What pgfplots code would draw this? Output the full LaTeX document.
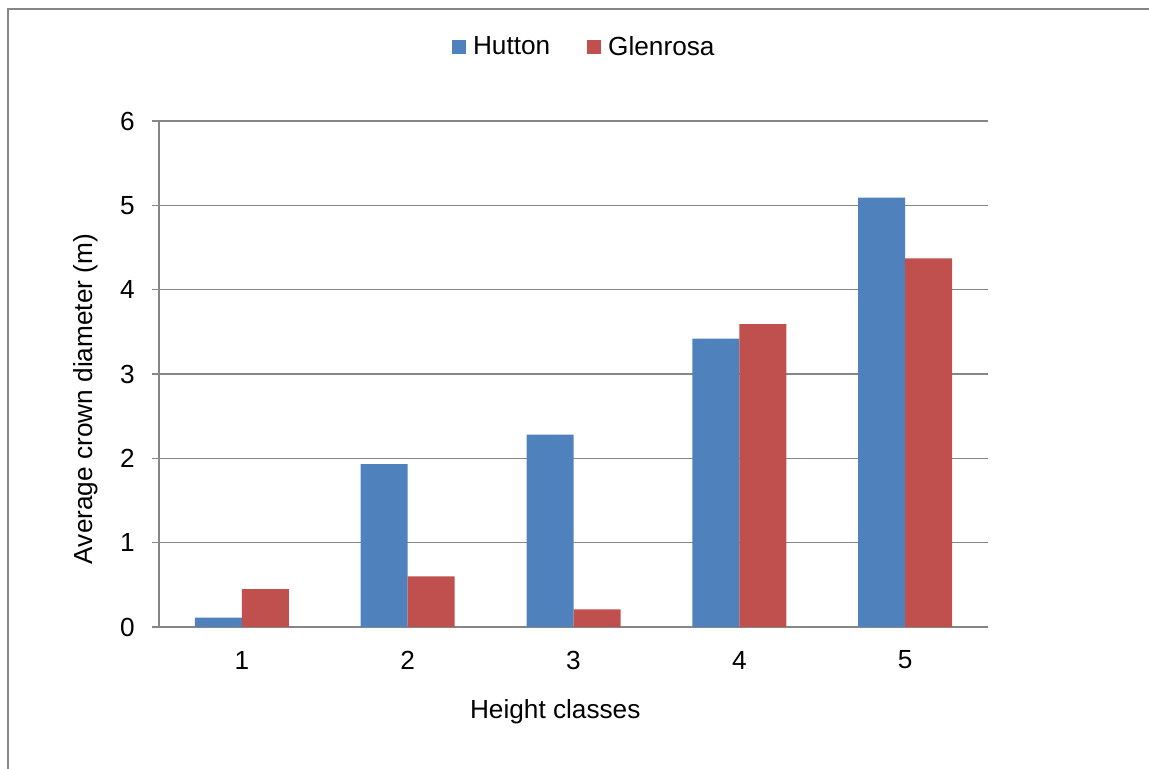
\documentclass[border=0pt]{standalone}
\usepackage{pgfplots}
\pgfplotsset{compat=1.18}
\usepackage{fontspec}
\setmainfont{Liberation Sans}

\definecolor{hutton}{HTML}{4F81BD}
\definecolor{glenrosa}{HTML}{C0504D}
\definecolor{axisgray}{HTML}{868686}

\begin{document}
\begin{tikzpicture}[font=\fontsize{13.1}{15.5}\selectfont]
\useasboundingbox (0,0) rectangle (574.5pt,384.5pt);
% chart frame
\draw[axisgray, line width=1pt] (4pt,0) -- (4pt,380pt) -- (574.5pt,380pt);

\begin{axis}[
  at={(79.5pt,71pt)}, anchor=south west,
  scale only axis,
  width=414.5pt, height=253pt,
  xmin=0.5, xmax=5.5,
  ymin=0, ymax=6,
  ybar=0pt, bar width=23.5pt,
  axis x line*=bottom, axis y line*=left,
  axis line style={axisgray, line width=0.8pt, -},
  xtick={1,2,3,4,5},
  major x tick style={draw=none},
  extra x ticks={0.5,1.5,2.5,3.5,4.5,5.5},
  extra x tick labels={},
  extra x tick style={major tick length=4pt, tick style={axisgray, line width=0.8pt}, grid=none},
  ytick={0,1,2,3,4,5,6},
  ymajorgrids,
  grid style={axisgray, line width=0.8pt},
  y tick style={axisgray, line width=0.8pt},
  major tick length=3.5pt,
  tick align=outside,
  /pgf/number format/assume math mode=true,
  yticklabel style={anchor=east, xshift=-8.5pt, inner sep=0pt},
  xticklabel style={anchor=center, yshift=-13pt, inner sep=0pt},
  xlabel={Height classes},
  xlabel style={at={(axis description cs:0.478,0)}, anchor=center, yshift=-42.5pt, inner sep=0pt},
  ylabel={Average crown diameter (m)},
  ylabel style={at={(axis description cs:-0.0881,0.4506)}, anchor=center, inner sep=0pt},
  legend columns=2,
  legend style={at={(axis description cs:0.516,1.146)}, anchor=center, draw=none, fill=none,
    /tikz/every even column/.append style={column sep=15pt}, inner sep=0pt,
    nodes={inner xsep=3.5pt}},
  legend image code/.code={\fill[#1] (0pt,-3.5pt) rectangle (7pt,3.5pt);},
  legend cell align=left,
]
\addplot[fill=hutton, draw=none] coordinates {(1,0.11) (2,1.93) (3,2.28) (4,3.42) (5,5.09)};
\addplot[fill=glenrosa, draw=none] coordinates {(1,0.45) (2,0.60) (3,0.21) (4,3.59) (5,4.37)};
\legend{Hutton, Glenrosa}
\end{axis}
\end{tikzpicture}
\end{document}
